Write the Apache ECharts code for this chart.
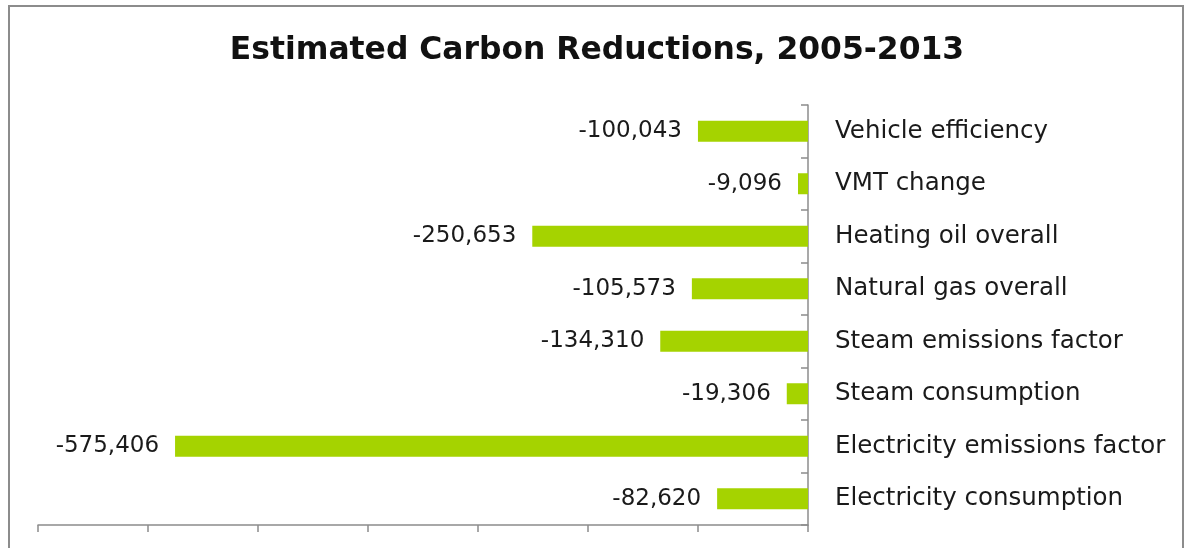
<!DOCTYPE html>
<html>
<head>
<meta charset="utf-8">
<script src="https://cdn.jsdelivr.net/npm/echarts@6/dist/echarts.min.js"></script>
<style>html,body{margin:0;padding:0;background:#fff;}#c{width:1188px;height:548px;}</style>
</head>
<body>
<div id="c"></div>
<script>
const categories = ["Vehicle efficiency","VMT change","Heating oil overall","Natural gas overall","Steam emissions factor","Steam consumption","Electricity emissions factor","Electricity consumption"];
const values = [-100043,-9096,-250653,-105573,-134310,-19306,-575406,-82620];
const titleText = "Estimated Carbon Reductions, 2005-2013";

const chart = echarts.init(document.getElementById('c'), null, {renderer:'canvas'});
chart.setOption({
  animation:false,
  backgroundColor:'#fff',
  title:{text:titleText,left:592,textAlign:'center',top:30,
    textStyle:{fontFamily:'DejaVu Sans',fontWeight:'bold',fontSize:31.4,color:'#111'}},
  graphic:[{type:'rect',shape:{x:9,y:6,width:1174,height:600},style:{fill:'none',stroke:'#8c8c8c',lineWidth:2},silent:true}],
  grid:{left:38,right:380,top:105,bottom:23},
  xAxis:{type:'value',min:-700000,max:0,interval:100000,
    axisLine:{show:true,lineStyle:{color:'#8c8c8c',width:1.5}},
    axisTick:{show:true,length:7,lineStyle:{color:'#8c8c8c',width:1.5}},
    axisLabel:{show:false},splitLine:{show:false}},
  yAxis:{type:'category',data:categories,inverse:true,position:'right',
    axisLine:{show:true,onZero:false,lineStyle:{color:'#8c8c8c',width:1.5}},
    axisTick:{show:true,inside:true,length:7,lineStyle:{color:'#8c8c8c',width:1.5}},
    axisLabel:{margin:27,fontFamily:'DejaVu Sans',fontSize:24.5,color:'#1a1a1a'}},
  series:[{type:'bar',data:values,barWidth:21,
    itemStyle:{color:'#a5d300'},
    label:{show:true,position:'left',distance:16,fontFamily:'DejaVu Sans',fontSize:23,color:'#1a1a1a',
      formatter:p=>p.value.toLocaleString('en-US')}}]
});
</script>
</body>
</html>
